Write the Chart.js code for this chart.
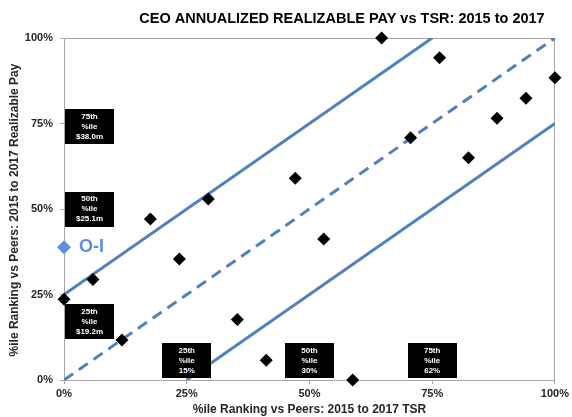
<!DOCTYPE html>
<html>
<head>
<meta charset="utf-8">
<script src="https://cdn.jsdelivr.net/npm/chart.js@4"></script>
<style>
  html, body { margin: 0; padding: 0; background: #fff; }
  #wrap { width: 572px; height: 417px; position: relative; }
</style>
</head>
<body>
<div id="wrap"><canvas id="chart"></canvas></div>
<script>
// peer group: TSR percentile rank (x) vs realizable pay percentile rank (y)
const tsrRank = [0, 5.9, 11.8, 17.6, 23.5, 29.4, 35.3, 41.2, 47.1, 52.9, 58.8, 64.7, 70.6, 76.5, 82.4, 88.2, 94.1, 100];
const payRank = [23.6, 29.4, 11.7, 47.1, 35.4, 52.9, 17.7, 5.8, 59.0, 41.2, 0, 100, 70.8, 94.2, 65.0, 76.5, 82.4, 88.4];

const company = "O-I";
const companyTsr = 0;
const companyPay = 38.8;

const axisTicks = [0, 25, 50, 75, 100];

// alignment band: +25 / parity / -25
const bandUpper = [[0, 25], [75, 100]];
const bandParity = [[0, 0], [100, 100]];
const bandLower = [[25, 0], [100, 75]];

const payBoxText = [["75th", "%ile", "$38.0m"], ["50th", "%ile", "$25.1m"], ["25th", "%ile", "$19.2m"]];
const payBoxAt = [74, 50, 17];
const tsrBoxText = [["25th", "%ile", "15%"], ["50th", "%ile", "30%"], ["75th", "%ile", "62%"]];
const tsrBoxAt = [25, 50, 75];

const BLUE = "#4F81BD";
const BLUE_CO = "#5B8FD8";
const GRAY = "#a6a6a6";
const TXT = "#262626";
const FONT = "Arial, 'Liberation Sans', sans-serif";

const toXY = (pairs) => pairs.map(([x, y]) => ({ x, y }));

function drawBox(ctx, cx, cy, lines) {
  const w = 49, h = 35;
  ctx.fillStyle = "#000";
  ctx.fillRect(Math.round(cx - w / 2), Math.round(cy - h / 2), w, h);
  ctx.fillStyle = "#fff";
  ctx.font = "bold 8px " + FONT;
  ctx.textAlign = "center";
  ctx.textBaseline = "middle";
  lines.forEach((t, i) => ctx.fillText(t, cx, cy + (i - 1) * 10));
}

const decor = {
  id: "decor",
  beforeDatasetsDraw(chart) {
    const { ctx, chartArea: a } = chart;
    ctx.save();
    ctx.strokeStyle = GRAY;
    ctx.lineWidth = 1;
    ctx.strokeRect(a.left + 0.5, a.top + 0.5, a.right - a.left - 1, a.bottom - a.top);
    ctx.restore();
  },
  beforeDatasetDraw(chart, args) {
    // boxes sit above the lines but under the markers
    if (args.index !== 1) return;
    const { ctx, chartArea: a, scales } = chart;
    ctx.save();
    payBoxAt.forEach((v, i) => {
      drawBox(ctx, a.left + 1 + 24.5, scales.y.getPixelForValue(v), payBoxText[i]);
    });
    tsrBoxAt.forEach((v, i) => {
      drawBox(ctx, scales.x.getPixelForValue(v), a.bottom - 2 - 17.5, tsrBoxText[i]);
    });
    ctx.restore();
  },
  afterDraw(chart) {
    const { ctx, scales } = chart;
    ctx.save();
    ctx.fillStyle = "#000";
    ctx.font = "bold 14.5px " + FONT;
    ctx.textAlign = "center";
    ctx.textBaseline = "middle";
    ctx.fillText("CEO ANNUALIZED REALIZABLE PAY vs TSR: 2015 to 2017", 342, 19);

    ctx.save();
    ctx.translate(15, 210);
    ctx.rotate(-Math.PI / 2);
    ctx.fillStyle = TXT;
    ctx.font = "bold 12px " + FONT;
    ctx.fillText("%ile Ranking vs Peers: 2015 to 2017 Realizable Pay", 0, 0);
    ctx.restore();

    const px = scales.x.getPixelForValue(companyTsr);
    const py = scales.y.getPixelForValue(companyPay);
    ctx.fillStyle = BLUE_CO;
    ctx.font = "bold 18px " + FONT;
    ctx.textAlign = "left";
    ctx.fillText(company, px + 15, py);
    ctx.restore();
  },
};

const lineStyle = {
  type: "line",
  showLine: true,
  borderColor: BLUE,
  borderWidth: 3,
  pointRadius: 0,
  fill: false,
  order: 2,
};

new Chart(document.getElementById("chart"), {
  type: "scatter",
  data: {
    datasets: [
      {
        label: "Peers",
        data: tsrRank.map((x, i) => ({ x, y: payRank[i] })),
        pointStyle: "rectRot",
        pointRadius: 6.5,
        backgroundColor: "#000",
        borderColor: "#000",
        borderWidth: 0,
        clip: false,
        order: 0,
      },
      {
        label: company,
        data: [{ x: companyTsr, y: companyPay }],
        pointStyle: "rectRot",
        pointRadius: 7,
        backgroundColor: BLUE_CO,
        borderColor: BLUE_CO,
        borderWidth: 0,
        clip: false,
        order: 1,
      },
      { ...lineStyle, label: "+25", data: toXY(bandUpper) },
      { ...lineStyle, label: "parity", data: toXY(bandParity), borderDash: [11, 7] },
      { ...lineStyle, label: "-25", data: toXY(bandLower) },
    ],
  },
  options: {
    responsive: true,
    maintainAspectRatio: false,
    animation: false,
    layout: { padding: { top: 38, right: 16, left: 0, bottom: 0 } },
    plugins: {
      legend: { display: false },
      tooltip: { enabled: false },
      title: { display: false },
    },
    scales: {
      x: {
        type: "linear",
        min: 0,
        max: 100,
        afterBuildTicks: (s) => { s.ticks = axisTicks.map((v) => ({ value: v })); },
        afterFit: (s) => { s.height = 37; },
        grid: { drawOnChartArea: false, drawTicks: true, tickLength: 4, color: GRAY },
        border: { display: false },
        ticks: {
          padding: 3,
          color: TXT,
          font: { family: FONT, size: 11, weight: "bold" },
          callback: (v) => v + "%",
        },
        title: {
          display: true,
          text: "%ile Ranking vs Peers: 2015 to 2017 TSR",
          color: TXT,
          padding: { top: 0, bottom: 0 },
          font: { family: FONT, size: 12, weight: "bold" },
        },
      },
      y: {
        type: "linear",
        min: 0,
        max: 100,
        afterBuildTicks: (s) => { s.ticks = axisTicks.map((v) => ({ value: v })); },
        afterFit: (s) => { s.width = 64; },
        grid: { drawOnChartArea: false, drawTicks: true, tickLength: 4, color: GRAY },
        border: { display: false },
        ticks: {
          padding: 7,
          color: TXT,
          font: { family: FONT, size: 11, weight: "bold" },
          callback: (v) => v + "%",
        },
      },
    },
  },
  plugins: [decor],
});
</script>
</body>
</html>
